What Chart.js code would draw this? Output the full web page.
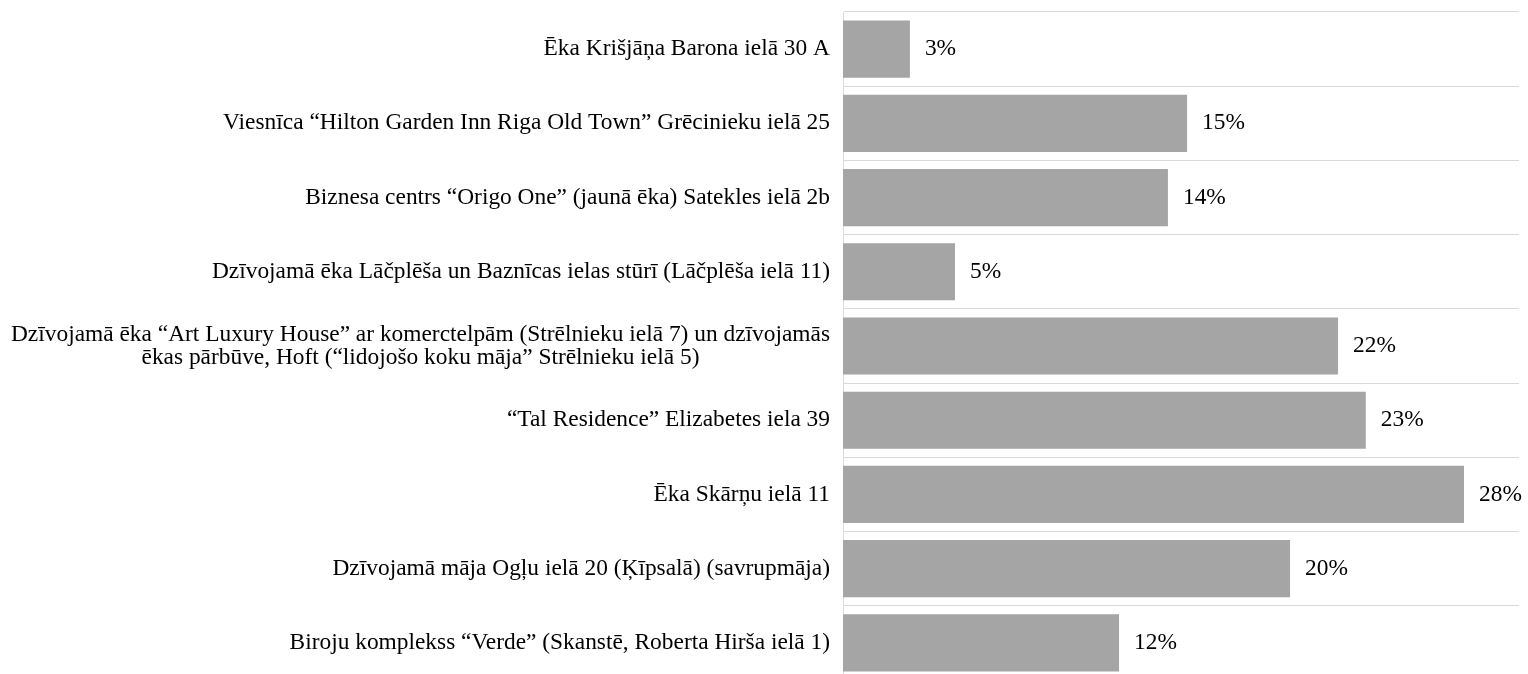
<!DOCTYPE html>
<html>
<head>
<meta charset="utf-8">
<script src="https://cdn.jsdelivr.net/npm/chart.js@4/dist/chart.umd.min.js"></script>
<style>
  html, body { margin: 0; padding: 0; background: #fff; overflow: hidden; }
  #wrap { position: relative; width: 1528px; height: 680px; }
</style>
</head>
<body>
<div id="wrap"><canvas id="projectChart"></canvas></div>
<script>
  // Projects (top to bottom as in the picture)
  const projects = [
    'Ēka Krišjāņa Barona ielā 30 A',
    'Viesnīca “Hilton Garden Inn Riga Old Town” Grēcinieku ielā 25',
    'Biznesa centrs “Origo One” (jaunā ēka) Satekles ielā 2b',
    'Dzīvojamā ēka Lāčplēša un Baznīcas ielas stūrī (Lāčplēša ielā 11)',
    ['Dzīvojamā ēka “Art Luxury House” ar komerctelpām (Strēlnieku ielā 7) un dzīvojamās',
     'ēkas pārbūve, Hoft (“lidojošo koku māja” Strēlnieku ielā 5)'],
    '“Tal Residence” Elizabetes iela 39',
    'Ēka Skārņu ielā 11',
    'Dzīvojamā māja Ogļu ielā 20 (Ķīpsalā) (savrupmāja)',
    'Biroju komplekss “Verde” (Skanstē, Roberta Hirša ielā 1)',
  ];

  // Share, percent
  const shares = [2.97, 15.27, 14.42, 4.97, 21.97, 23.2, 27.56, 19.84, 12.25];

  const axisMin = 0;
  const axisMax = 30;

  const FONT = '"Liberation Serif", "Times New Roman", serif';
  const FONT_SIZE = 23.4;

  // category labels, right aligned, extra lines centred under the first
  const categoryLabels = {
    id: 'categoryLabels',
    afterDraw(chart) {
      const ctx = chart.ctx;
      const yScale = chart.scales.y;
      const right = yScale.right - 13;
      ctx.save();
      ctx.font = FONT_SIZE + 'px ' + FONT;
      ctx.fillStyle = '#000';
      ctx.textBaseline = 'middle';
      projects.forEach(function (label, i) {
        const y = yScale.getPixelForValue(i);
        const lines = Array.isArray(label) ? label : [label];
        const lineH = 23;
        const widths = lines.map(function (l) { return ctx.measureText(l).width; });
        const maxW = Math.max.apply(null, widths);
        const cx = right - maxW / 2;
        const top = y - (lines.length - 1) * lineH / 2;
        lines.forEach(function (l, j) {
          if (lines.length > 1) {
            ctx.textAlign = 'center';
            ctx.fillText(l, cx, top + j * lineH);
          } else {
            ctx.textAlign = 'right';
            ctx.fillText(l, right, top);
          }
        });
      });
      ctx.restore();
    },
  };

  // value labels after each bar
  const valueLabels = {
    id: 'valueLabels',
    afterDatasetsDraw(chart) {
      const ctx = chart.ctx;
      const meta = chart.getDatasetMeta(0);
      ctx.save();
      ctx.font = FONT_SIZE + 'px ' + FONT;
      ctx.fillStyle = '#000';
      ctx.textAlign = 'left';
      ctx.textBaseline = 'middle';
      meta.data.forEach(function (bar, i) {
        ctx.fillText(Math.round(shares[i]) + '%', bar.x + 15, bar.y);
      });
      ctx.restore();
    },
  };

  new Chart(document.getElementById('projectChart'), {
    type: 'bar',
    data: {
      labels: projects,
      datasets: [
        {
          data: shares,
          backgroundColor: '#a5a5a5',
          borderWidth: 0,
          barPercentage: 0.77,
          categoryPercentage: 1,
        },
      ],
    },
    options: {
      indexAxis: 'y',
      responsive: true,
      maintainAspectRatio: false,
      animation: false,
      layout: { padding: { top: 12, right: 9, bottom: 0, left: 0 } },
      plugins: {
        legend: { display: false },
        tooltip: { enabled: false },
      },
      scales: {
        x: {
          display: false,
          min: axisMin,
          max: axisMax,
        },
        y: {
          offset: true,
          grid: { offset: true, color: '#d9d9d9', lineWidth: 1, drawTicks: false },
          border: { display: true, color: '#d9d9d9', width: 1 },
          ticks: { display: false },
          afterFit: function (scale) {
            scale.width = 843;
          },
        },
      },
    },
    plugins: [categoryLabels, valueLabels],
  });
</script>
</body>
</html>
